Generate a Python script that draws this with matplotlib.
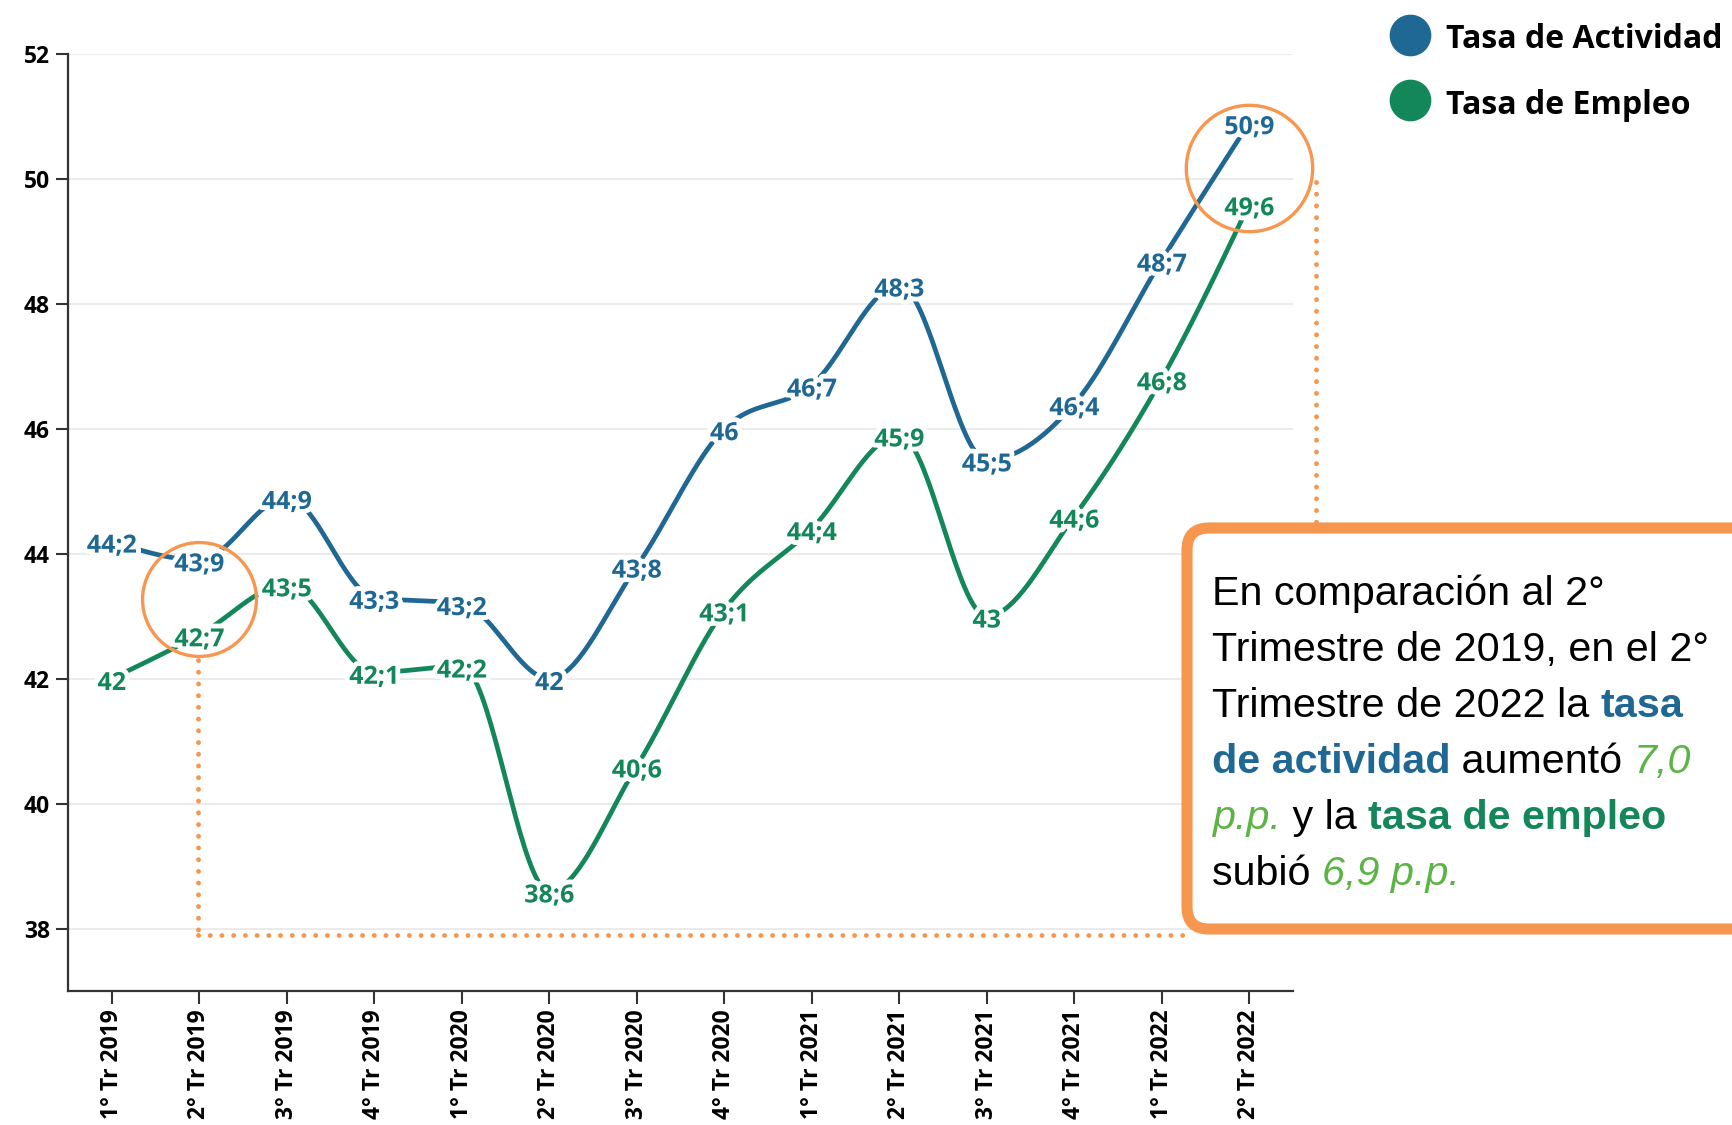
import numpy as np
import matplotlib
matplotlib.use("Agg")
import matplotlib.pyplot as plt
import matplotlib.patheffects as pe
import matplotlib.transforms as mtransforms
from matplotlib.patches import FancyBboxPatch
from matplotlib.lines import Line2D

trimestres = ["1° Tr 2019", "2° Tr 2019", "3° Tr 2019", "4° Tr 2019",
              "1° Tr 2020", "2° Tr 2020", "3° Tr 2020", "4° Tr 2020",
              "1° Tr 2021", "2° Tr 2021", "3° Tr 2021", "4° Tr 2021",
              "1° Tr 2022", "2° Tr 2022"]
actividad = [44.2, 43.9, 44.9, 43.3, 43.2, 42.0, 43.8, 46.0, 46.7, 48.3, 45.5, 46.4, 48.7, 50.9]
empleo = [42.0, 42.7, 43.5, 42.1, 42.2, 38.6, 40.6, 43.1, 44.4, 45.9, 43.0, 44.6, 46.8, 49.6]
y_ticks = [38, 40, 42, 44, 46, 48, 50, 52]

AZUL = "#1f6894"
VERDE = "#13875a"
VERDE_CLARO = "#5cb446"
NARANJA = "#f7964f"
FUENTE = "Open Sans"


def monotone(x, y, n=40):
    # curva monotona tipo d3.curveMonotoneX
    x = np.asarray(x, float)
    y = np.asarray(y, float)
    h = np.diff(x)
    s = np.diff(y) / h
    m = np.zeros(len(x))
    for k in range(1, len(x) - 1):
        p = (s[k - 1] * h[k] + s[k] * h[k - 1]) / (h[k - 1] + h[k])
        m[k] = (np.sign(s[k - 1]) + np.sign(s[k])) * min(abs(s[k - 1]), abs(s[k]), 0.5 * abs(p))
    m[0] = (3 * s[0] - m[1]) / 2
    m[-1] = (3 * s[-1] - m[-2]) / 2
    xs, ys = [], []
    for k in range(len(x) - 1):
        t = np.linspace(0, 1, n)
        h00 = 2 * t**3 - 3 * t**2 + 1
        h10 = t**3 - 2 * t**2 + t
        h01 = -2 * t**3 + 3 * t**2
        h11 = t**3 - t**2
        xs.append(x[k] + t * h[k])
        ys.append(h00 * y[k] + h10 * h[k] * m[k] + h01 * y[k + 1] + h11 * h[k] * m[k + 1])
    return np.concatenate(xs), np.concatenate(ys)


def etiqueta(v):
    return f"{v:g}".replace(".", ";")


W, H = 1733, 1125
fig = plt.figure(figsize=(W / 100, H / 100), dpi=100)
ax = fig.add_axes([68 / W, 1 - 991 / H, (1293 - 68) / W, (991 - 54) / H])

x = np.arange(len(trimestres))
ax.set_xlim(-0.5, len(trimestres) - 0.5)
ax.set_ylim(37.0, 52)

for yt in y_ticks:
    ax.axhline(yt, color="#ebebeb", lw=1.5, zorder=0)

for serie, color in [(actividad, AZUL), (empleo, VERDE)]:
    cx, cy = monotone(x, serie)
    ax.plot(cx, cy, color=color, lw=3.4, solid_capstyle="round", zorder=2)
    for i, v in enumerate(serie):
        ax.annotate(etiqueta(v), (i, v), xytext=(0, -3.5), textcoords="offset points",
                    ha="center", va="center", color=color,
                    fontsize=18, fontweight="bold", family=FUENTE, zorder=4,
                    path_effects=[pe.withStroke(linewidth=7, foreground="white")])

# circulos y lineas punteadas
ax.plot([1], [43.27], marker="o", ms=82, mfc="none", mec=NARANJA, mew=2.4,
        zorder=5, clip_on=False)
ax.plot([13], [50.18], marker="o", ms=91, mfc="none", mec=NARANJA, mew=2.4,
        zorder=5, clip_on=False)
punteado = dict(color=NARANJA, lw=3.5, ls=(0, (0.01, 2.4)), dash_capstyle="round",
                solid_capstyle="round", zorder=3, clip_on=False)
ax.plot([0.98, 0.98], [42.3, 37.9], **punteado)
ax.plot([0.98, 12.36], [37.9, 37.9], **punteado)
ax.plot([13.76, 13.76], [49.95, 44.5], **punteado)

ax.set_xticks(x)
ax.set_xticklabels(trimestres, rotation=90, fontsize=16.5, fontweight="bold", family=FUENTE)
ax.set_yticks(y_ticks)
ax.set_yticklabels([str(v) for v in y_ticks], fontsize=16.5, fontweight="bold", family=FUENTE)
ax.tick_params(axis="both", length=9, width=1.5, color="#333333", pad=4)
for lado in ["top", "right"]:
    ax.spines[lado].set_visible(False)
for lado in ["left", "bottom"]:
    ax.spines[lado].set_color("#333333")
    ax.spines[lado].set_linewidth(1.6)
ax.spines["left"].set_bounds(37.0, 52)

# leyenda
for yc, txt, color in [(35, "Tasa de Actividad", AZUL), (100, "Tasa de Empleo", VERDE)]:
    fig.add_artist(Line2D([1410 / W], [1 - yc / H], marker="o", ms=29, color=color,
                          transform=fig.transFigure))
    fig.text(1446 / W, 1 - (yc + 5) / H, txt, va="center", ha="left", fontsize=23,
             fontweight="bold", family=FUENTE, color="black")

# recuadro de texto
caja = FancyBboxPatch((1187, 196), 600, 401, boxstyle="round,pad=0,rounding_size=22",
                      transform=mtransforms.IdentityTransform(), facecolor="white",
                      edgecolor=NARANJA, lw=8, zorder=10)
fig.add_artist(caja)

N = dict(color="black")
BA = dict(color=AZUL, fontweight="bold")
IG = dict(color=VERDE_CLARO, style="italic")
BV = dict(color=VERDE, fontweight="bold")
lineas = [
    [("En comparación al 2°", N)],
    [("Trimestre de 2019, en el 2°", N)],
    [("Trimestre de 2022 la ", N), ("tasa", BA)],
    [("de actividad", BA), (" aumentó ", N), ("7,0", IG)],
    [("p.p.", IG), (" y la ", N), ("tasa de empleo", BV)],
    [("subió ", N), ("6,9 p.p.", IG)],
]
renderer = fig.canvas.get_renderer()
base = 605
for linea in lineas:
    xp = 1212
    for s, kw in linea:
        t = fig.text(xp / W, 1 - base / H, s, va="baseline", ha="left", fontsize=29.7,
                     family="Liberation Sans", zorder=11, **kw)
        xp += t.get_window_extent(renderer).width
    base += 56

fig.savefig("out.png", dpi=100, facecolor="white")
